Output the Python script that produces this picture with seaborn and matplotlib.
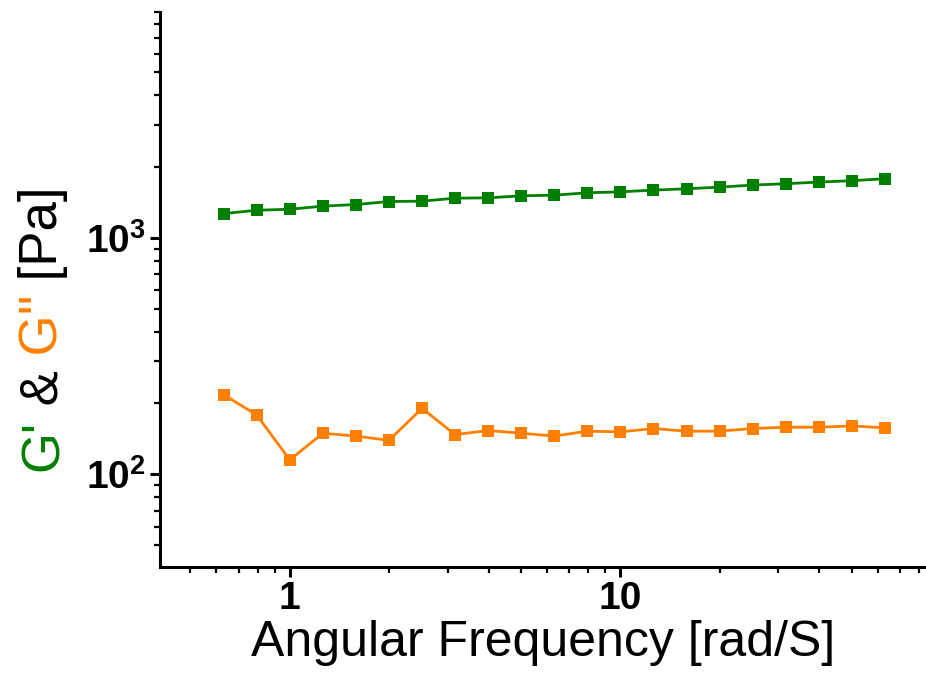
import numpy as np
import pandas as pd
import matplotlib
matplotlib.use("Agg")
import matplotlib.pyplot as plt
from matplotlib.ticker import FixedLocator, LogLocator, NullFormatter, FixedFormatter
import seaborn as sns

# angular frequency sweep [rad/s]
freq = [0.631, 0.794, 1.0, 1.259, 1.585, 1.995, 2.512, 3.162, 3.981, 5.012, 6.31,
        7.943, 10.0, 12.59, 15.85, 19.95, 25.12, 31.62, 39.81, 50.12, 63.1]
# storage modulus G' [Pa]
g_storage = [1265, 1307, 1320, 1360, 1382, 1423, 1428, 1470, 1475, 1504, 1514,
             1549, 1564, 1590, 1611, 1637, 1670, 1692, 1720, 1743, 1777]
# loss modulus G'' [Pa]
g_loss = [217, 178, 115, 149, 145, 139, 190, 147, 153, 149, 145,
          152, 151, 156, 152, 152, 156, 158, 158, 160, 157]

x_major = [1, 10]
x_major_labels = ["1", "10"]
y_major = [100, 1000]
y_major_labels = [r"$\mathbf{10^{2}}$", r"$\mathbf{10^{3}}$"]

green = "#008000"
orange = "#ff8000"

df = pd.DataFrame({
    "freq": freq * 2,
    "G": g_storage + g_loss,
    "modulus": ["G'"] * len(freq) + ["G''"] * len(freq),
})

sns.set_style("ticks")
plt.rcParams["font.family"] = ["Liberation Sans", "DejaVu Sans"]
plt.rcParams["mathtext.fontset"] = "custom"
plt.rcParams["mathtext.bf"] = "Liberation Sans:bold"
plt.rcParams["mathtext.rm"] = "Liberation Sans"
for key in ["text.color", "axes.labelcolor", "xtick.color", "ytick.color", "axes.edgecolor"]:
    plt.rcParams[key] = "black"

fig = plt.figure(figsize=(9.26, 6.73), dpi=100)
ax = fig.add_axes([0.1728, 0.1575, 0.8272, 0.8245])

sns.lineplot(data=df, x="freq", y="G", hue="modulus",
             palette={"G'": green, "G''": orange},
             marker="s", markersize=8, markeredgewidth=0, linewidth=2,
             legend=False, ax=ax)

ax.set_xscale("log")
ax.set_yscale("log")
ax.set_xlim(0.405, 84)
ax.set_ylim(40.5, 9000)

ax.xaxis.set_major_locator(FixedLocator(x_major))
ax.xaxis.set_major_formatter(FixedFormatter(x_major_labels))
ax.xaxis.set_minor_locator(LogLocator(base=10, subs=np.arange(2, 10)))
ax.xaxis.set_minor_formatter(NullFormatter())
ax.yaxis.set_major_locator(FixedLocator(y_major))
ax.yaxis.set_major_formatter(FixedFormatter(y_major_labels))
ax.yaxis.set_minor_locator(LogLocator(base=10, subs=np.arange(2, 10)))
ax.yaxis.set_minor_formatter(NullFormatter())

sns.despine(ax=ax)
for side in ["left", "bottom"]:
    ax.spines[side].set_linewidth(2.2)
ax.tick_params(which="major", length=7, width=2.2, labelsize=28, pad=3)
ax.tick_params(which="minor", length=4, width=1.6)
for lab in ax.get_xticklabels():
    lab.set_fontweight("bold")

ax.set_xlabel("Angular Frequency [rad/S]", fontsize=36, labelpad=2)
ax.set_ylabel("")

# multi-coloured y label, stacked bottom to top
pieces = [("G'", green), (" &", "black"), (" G''", orange), (" [Pa]", "black")]
prev = fig.text(0.062, 0.300, pieces[0][0], color=pieces[0][1], fontsize=38,
                rotation=90, rotation_mode="anchor", ha="left", va="baseline")
for txt, col in pieces[1:]:
    prev = ax.annotate(txt, xy=(0.062, 1.0), xycoords=("figure fraction", prev),
                       color=col, fontsize=38, rotation=90, rotation_mode="anchor",
                       ha="left", va="baseline", annotation_clip=False)

fig.savefig("out.png", dpi=100)
